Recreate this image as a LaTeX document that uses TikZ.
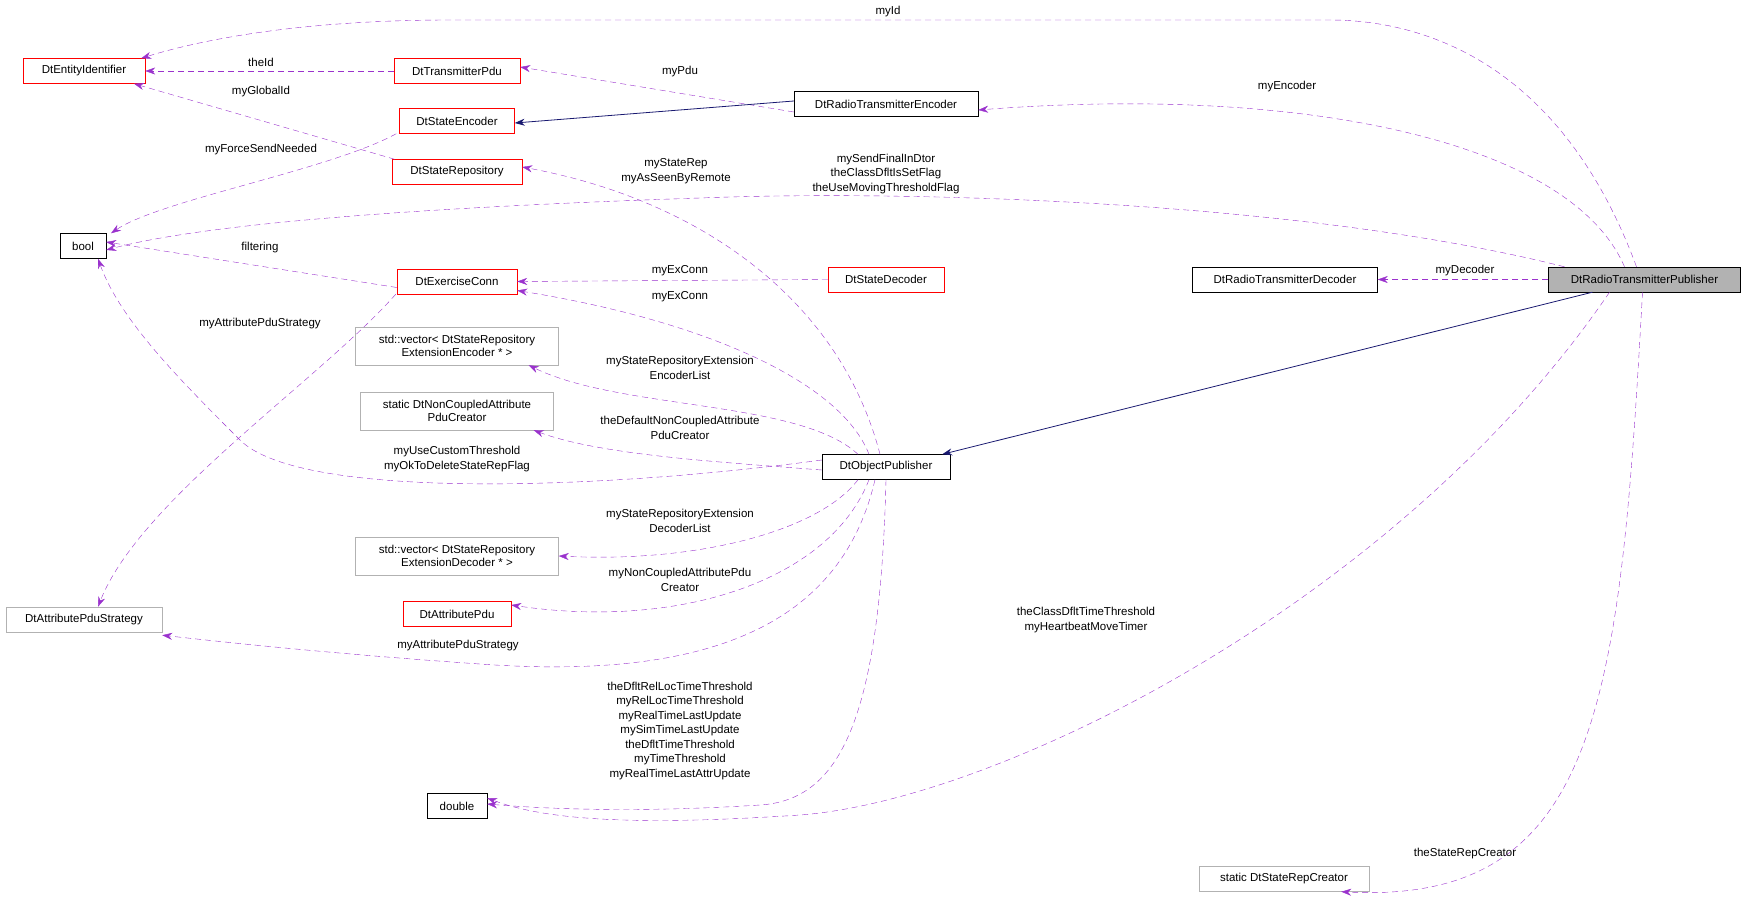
\documentclass[tikz,border=0pt]{standalone}
\usepackage{fontspec}
\setmainfont{Liberation Sans}
\usetikzlibrary{arrows.meta}
\definecolor{edge}{RGB}{154,50,205}
\definecolor{navy}{RGB}{25,25,112}
\begin{document}
\begin{tikzpicture}[x=1pt,y=-1pt,
  font=\fontsize{11.5}{13.5}\selectfont,
  box/.style={draw=black,rectangle,inner sep=1pt,minimum height=25pt,align=center,fill=white},
  red/.style={box,draw=red},
  gray/.style={box,draw=black!30},
  two/.style={minimum height=38pt},
  uses/.style={draw=edge,dash pattern=on 6pt off 4pt,-{Stealth[length=10pt,width=7pt,fill=edge]}},
  inh/.style={draw=navy,-{Stealth[length=10pt,width=7pt,fill=navy]},thick},
  lab/.style={inner sep=0pt,align=center,font=\fontsize{11.5}{14.5}\selectfont}]
\useasboundingbox (0,0) rectangle (1747,905);
\node[box,fill=black!30,minimum width=192pt] (pub) at (1644.5,279.5) {DtRadioTransmitterPublisher};
\node[red,minimum width=122pt] (ent) at (84,71) {DtEntityIdentifier};
\node[red,minimum width=126pt] (tpdu) at (457,71) {DtTransmitterPdu};
\node[box,minimum width=184pt] (enc) at (886,104) {DtRadioTransmitterEncoder};
\node[red,minimum width=115pt] (senc) at (457,121) {DtStateEncoder};
\node[red,minimum width=130pt] (srep) at (457,172) {DtStateRepository};
\node[box,minimum width=46pt] (bool) at (83,246) {bool};
\node[red,minimum width=120pt] (exc) at (457,281.5) {DtExerciseConn};
\node[red,minimum width=116pt] (sdec) at (886,279.5) {DtStateDecoder};
\node[box,minimum width=185pt] (dec) at (1285,279.5) {DtRadioTransmitterDecoder};
\node[gray,two,minimum width=203pt] (venc) at (457,346) {std::vector< DtStateRepository\\ExtensionEncoder * >};
\node[gray,two,minimum width=193pt] (ncpl) at (457,411) {static DtNonCoupledAttribute\\PduCreator};
\node[box,minimum width=128pt] (opub) at (886,467) {DtObjectPublisher};
\node[gray,two,minimum width=203pt] (vdec) at (457,556) {std::vector< DtStateRepository\\ExtensionDecoder * >};
\node[red,minimum width=108pt] (apdu) at (457,614) {DtAttributePdu};
\node[gray,minimum width=156pt] (aps) at (84,619.5) {DtAttributePduStrategy};
\node[box,minimum width=60pt] (dbl) at (457,806) {double};
\node[gray,minimum width=170pt] (src) at (1284,879) {static DtStateRepCreator};

% publisher edges
\draw[uses] ([xshift=-8pt]pub.north) .. controls (1560,60) and (1420,20) .. (1330,20) -- (450,20) .. controls (300,20) and (200,40) .. ([xshift=-4pt]ent.north east);
\node[lab] (l1) at (888,12) {myId};
\draw[uses] ([xshift=-20pt]pub.north) .. controls (1570,140) and (1300,85) .. ([yshift=-6pt]enc.east);
\node[lab] (l2) at (1287,87) {myEncoder};
\draw[uses] ([xshift=-80pt]pub.north) .. controls (1300,200) and (900,190) .. (700,198) .. controls (400,208) and (200,225) .. ([yshift=-4pt]bool.east);
\node[lab] (l3) at (886,174) {mySendFinalInDtor\\theClassDfltIsSetFlag\\theUseMovingThresholdFlag};
\draw[uses] (pub.west) -- (dec.east);
\node[lab] (l4) at (1465,271) {myDecoder};
\draw[inh] ([xshift=-52pt]pub.south) -- ([xshift=-8pt]opub.north east);
\draw[uses] ([xshift=-35pt]pub.south) .. controls (1400,600) and (1000,800) .. (800,815) .. controls (650,825) and (550,822) .. ([yshift=8pt]dbl.east);
\node[lab] (l6) at (1086,620) {theClassDfltTimeThreshold\\myHeartbeatMoveTimer};
\draw[uses] ([xshift=-2pt]pub.south) .. controls (1620,700) and (1600,905) .. ([xshift=-28pt]src.south east);
\node[lab] (l7) at (1465,854) {theStateRepCreator};

% upper
\draw[uses] ([yshift=-8pt]enc.west) -- ([yshift=4pt]tpdu.east);
\node[lab] (l8) at (680,72) {myPdu};
\draw[inh] ([yshift=3pt]enc.west) -- ([yshift=-2pt]senc.east);
\draw[uses] (tpdu.west) -- (ent.east);
\node[lab] (l10) at (261,62) {theId};
\draw[uses] ([xshift=3pt]srep.north west) -- ([xshift=50pt]ent.south);
\node[lab] (l11) at (261,92) {myGlobalId};
\draw[uses] ([xshift=-3pt]senc.south west) .. controls (330,170) and (160,200) .. ([xshift=28pt]bool.north);
\node[lab] (l12) at (261,150) {myForceSendNeeded};
\draw[uses] ([xshift=-6pt]opub.north) .. controls (840,300) and (700,200) .. ([yshift=5pt]srep.east);
\node[lab] (l13) at (676,171) {myStateRep\\myAsSeenByRemote};
\draw[uses] ([yshift=-6pt]exc.west) -- ([yshift=4pt]bool.east);
\node[lab] (l14) at (260,248) {filtering};
\draw[uses] (sdec.west) -- (exc.east);
\node[lab] (l15) at (680,271) {myExConn};
\draw[uses] ([xshift=-17pt]opub.north) .. controls (840,380) and (700,320) .. ([yshift=-9pt]exc.east);
\node[lab] (l17) at (680,297) {myExConn};
\draw[uses] ([xshift=-1pt]exc.south west) .. controls (320,380) and (140,500) .. ([xshift=14pt]aps.north);
\node[lab] (l18) at (260,324) {myAttributePduStrategy};

% lower
\draw[uses] ([xshift=-28pt]opub.north) .. controls (800,400) and (620,410) .. ([xshift=-30pt]venc.south east);
\node[lab] (l19) at (680,368) {myStateRepositoryExtension\\EncoderList};
\draw[uses] ([yshift=-3pt]opub.west) .. controls (720,462) and (600,455) .. ([xshift=-20pt]ncpl.south east);
\node[lab] (l20) at (680,428) {theDefaultNonCoupledAttribute\\PduCreator};
\draw[uses] ([yshift=7pt]opub.west) .. controls (600,490) and (300,500) .. (240,440) .. controls (180,380) and (120,320) .. ([xshift=15pt]bool.south);
\node[lab] (l21) at (457,459) {myUseCustomThreshold\\myOkToDeleteStateRepFlag};
\draw[uses] ([xshift=-28pt]opub.south) .. controls (820,530) and (700,563) .. (vdec.east);
\node[lab] (l22) at (680,521) {myStateRepositoryExtension\\DecoderList};
\draw[uses] ([xshift=-17pt]opub.south) .. controls (830,580) and (680,630) .. ([yshift=9pt]apdu.east);
\node[lab] (l23) at (680,580) {myNonCoupledAttributePdu\\Creator};
\draw[uses] ([xshift=-11pt]opub.south) .. controls (840,630) and (700,680) .. (480,664) .. controls (350,655) and (250,645) .. ([yshift=-3pt]aps.south east);
\node[lab] (l24) at (458,646) {myAttributePduStrategy};
\draw[uses] ([xshift=0pt]opub.south) .. controls (880,720) and (840,800) .. (760,805) .. controls (650,812) and (560,810) .. ([yshift=2pt]dbl.east);
\node[lab] (l25) at (680,731) {theDfltRelLocTimeThreshold\\myRelLocTimeThreshold\\myRealTimeLastUpdate\\mySimTimeLastUpdate\\theDfltTimeThreshold\\myTimeThreshold\\myRealTimeLastAttrUpdate};
\end{tikzpicture}
\end{document}
